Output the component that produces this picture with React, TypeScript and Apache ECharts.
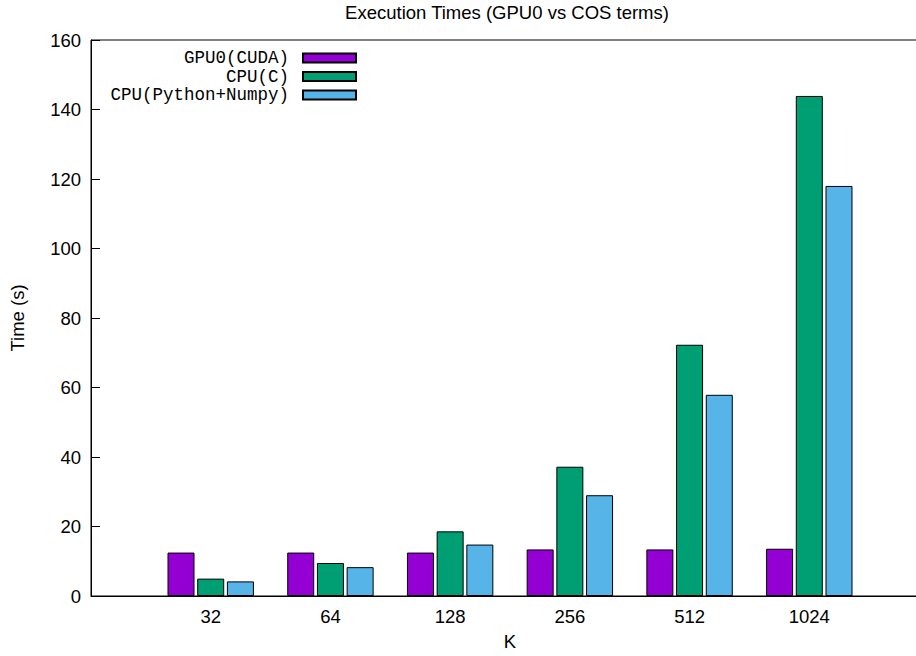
import React, { useEffect, useRef } from "react";
import * as echarts from "echarts";

const categories = ["32", "64", "128", "256", "512", "1024"];
const seriesNames = ["GPU0(CUDA)", "CPU(C)", "CPU(Python+Numpy)"];
const gpuTimes = [12.5, 12.5, 12.5, 13.4, 13.4, 13.6];
const cpuCTimes = [5.0, 9.5, 18.6, 37.2, 72.3, 143.9];
const cpuPyTimes = [4.2, 8.3, 14.8, 29.0, 57.9, 118.0];
const seriesColors = ["#9400d3", "#009e73", "#56b4e9"];

const SANS = "'Liberation Sans', Arial, Helvetica, sans-serif";
const MONO = "'Liberation Mono', 'Courier New', monospace";

export default function App() {
  const ref = useRef<HTMLDivElement>(null);
  useEffect(() => {
    document.body.style.margin = "0";
    if (!ref.current) return;
    const chart = echarts.init(ref.current, undefined, { renderer: "svg" });
    const allData = [gpuTimes, cpuCTimes, cpuPyTimes];
    const legendTops = [49, 67.5, 86];
    chart.setOption({
      animation: false,
      backgroundColor: "#fff",
      title: {
        text: "Execution Times (GPU0 vs COS terms)",
        left: 507,
        top: 3,
        textAlign: "center",
        padding: 0,
        textStyle: { fontFamily: SANS, fontSize: 18.5, fontWeight: "normal", color: "#000" },
      },
      legend: seriesNames.map((n, i) => ({
        data: [n],
        orient: "vertical",
        align: "right",
        right: 559,
        top: legendTops[i],
        padding: 0,
        itemWidth: 53,
        itemHeight: 9,
        icon: "rect",
        selectedMode: false,
        textStyle: {
          fontFamily: MONO,
          fontSize: 17.5,
          lineHeight: 18,
          color: "#000",
          padding: [0, 9, 0, 0],
        },
      })),
      grid: {
        left: 91,
        top: 40,
        width: 838,
        height: 556,
        show: true,
        borderColor: "#000",
        borderWidth: 1,
        containLabel: false,
        outerBoundsMode: "none",
      },
      xAxis: {
        type: "value",
        min: -1,
        max: 6,
        interval: 1,
        name: "K",
        nameLocation: "middle",
        nameGap: 36,
        nameTextStyle: { fontFamily: SANS, fontSize: 18.5, color: "#000" },
        axisLine: { show: true, onZero: false, lineStyle: { color: "#000", width: 1 } },
        axisTick: { show: false },
        splitLine: { show: false },
        axisLabel: {
          margin: 11,
          fontFamily: SANS,
          fontSize: 18.5,
          color: "#000",
          formatter: (v: number) => {
            const i = Math.round(v);
            return i >= 0 && i < categories.length && Math.abs(v - i) < 1e-6 ? categories[i] : "";
          },
        },
      },
      yAxis: {
        type: "value",
        min: 0,
        max: 160,
        interval: 20,
        name: "Time (s)",
        nameLocation: "middle",
        nameGap: 64,
        nameRotate: 90,
        nameTextStyle: { fontFamily: SANS, fontSize: 18.5, color: "#000" },
        axisLine: { show: true, onZero: false, lineStyle: { color: "#000", width: 1 } },
        axisTick: { show: true, inside: true, length: 9, lineStyle: { color: "#000" } },
        splitLine: { show: false },
        axisLabel: { margin: 10, fontFamily: SANS, fontSize: 18.5, color: "#000" },
      },
      series: seriesNames.map((n, s) => ({
        name: n,
        type: "bar",
        barWidth: 27,
        barGap: "10%",
        data: allData[s].map((v, i) => [i, v]),
        itemStyle: { color: seriesColors[s], borderColor: "#000", borderWidth: 1 },
      })),
    });
    return () => chart.dispose();
  }, []);
  return <div ref={ref} style={{ width: 916, height: 656 }} />;
}
